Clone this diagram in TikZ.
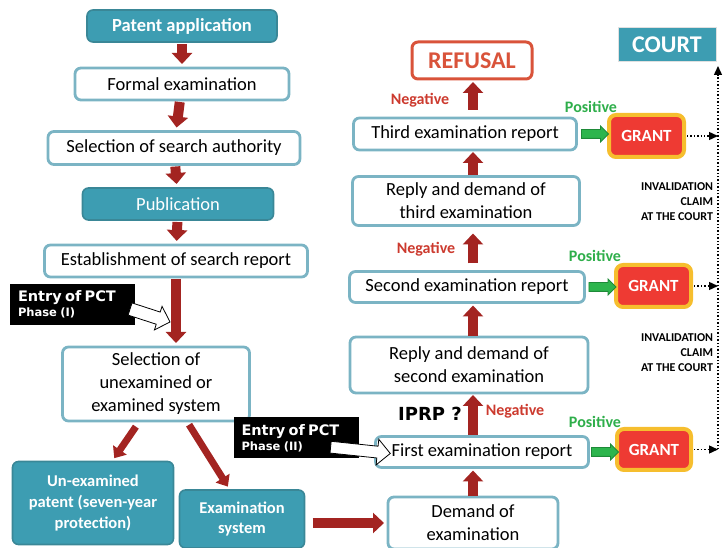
\documentclass[tikz,border=0pt]{standalone}
\usepackage{fontspec}
\setmainfont{Carlito}
\newfontfamily\dvsans{DejaVu Sans}
\usetikzlibrary{arrows.meta,shapes.arrows,calc}
\definecolor{tealfill}{HTML}{3D9DB2}
\definecolor{tealedge}{HTML}{3A8797}
\definecolor{boxedge}{HTML}{7BB4C4}
\definecolor{flowred}{HTML}{A32421}
\definecolor{grantred}{HTML}{EE3A33}
\definecolor{grantedge}{HTML}{F6BE2E}
\definecolor{refusered}{HTML}{D9533A}
\definecolor{negred}{HTML}{CC3A2E}
\definecolor{posgreen}{HTML}{2EAE4A}
\definecolor{arrowgreen}{HTML}{2DB54D}
\definecolor{arrowgreenedge}{HTML}{1E8A38}
\begin{document}
\begin{tikzpicture}[x=1pt,y=-1pt,
  every node/.style={inner sep=0pt, outer sep=0pt},
  txt/.style={font=\fontsize{18.5}{23}\selectfont, align=center},
  wbox/.style={txt, draw=boxedge, line width=2.8pt, fill=white, rounded corners=6pt},
  tbox/.style={draw=tealedge, line width=1.6pt, fill=tealfill, text=white,
    rounded corners=6pt, align=center},
  flow/.style={draw=flowred, line width=10pt,
    -{Triangle[width=20pt,length=11pt]}, shorten <=2pt, shorten >=4pt},
  diag/.style={line width=7pt, -{Triangle[width=16pt,length=10pt]}},
  grantbox/.style={fill=grantred, draw=grantedge, line width=4pt, rounded corners=7pt,
    text=white, font=\fontsize{17}{20}\selectfont\bfseries,
    minimum width=75pt, minimum height=42pt},
  garrow/.style={single arrow, fill=arrowgreen, draw=arrowgreenedge, line width=0.8pt,
    minimum height=27pt, inner xsep=0pt, inner ysep=4pt,
    single arrow head extend=3.5pt, single arrow head indent=0pt},
  pctbox/.style={fill=black, text=white, font=\dvsans\bfseries, align=left,
    inner xsep=8pt, text width=109pt, minimum height=41pt},
  pctarrow/.style={single arrow, fill=white, draw=black, line width=0.8pt,
    inner xsep=0pt, inner ysep=6pt, single arrow head extend=6pt,
    single arrow head indent=0pt},
  neglbl/.style={text=negred, font=\fontsize{16}{19}\selectfont\bfseries},
  poslbl/.style={text=posgreen, font=\fontsize{16}{19}\selectfont\bfseries},
  invlbl/.style={anchor=north east, align=right, font=\fontsize{12}{15}\selectfont\bfseries},
  dots/.style={dotted, line width=1.4pt, -{Triangle[width=8pt,length=9pt]}},
]
\useasboundingbox (0,0) rectangle (724,548);

% ---- national phase: filing to choice of system
\node[tbox, font=\fontsize{18.5}{23}\selectfont\bfseries, minimum width=190pt, minimum height=32pt]
  (patent) at (182,26) {Patent application};
\node[wbox, minimum width=214pt, minimum height=32pt] (formal) at (182,84) {Formal examination};
\node[wbox, minimum width=252pt, minimum height=33pt] (search) at (174,148) {Selection of search authority};
\node[tbox, font=\fontsize{18.5}{23}\selectfont, minimum width=191pt, minimum height=32pt]
  (pub) at (178,204) {Publication};
\node[wbox, minimum width=263pt, minimum height=32pt] (est) at (176,261) {Establishment of search report};
\node[wbox, minimum width=187pt, minimum height=74pt] (sel) at (156,384)
  {Selection of\\unexamined or\\examined system};
\node[tbox, font=\fontsize{16.5}{21}\selectfont\bfseries, minimum width=161pt, minimum height=83pt]
  (unex) at (93,503) {Un-examined\\patent (seven-year\\protection)};
\node[tbox, font=\fontsize{16.5}{20}\selectfont\bfseries, minimum width=125pt, minimum height=58pt]
  (exsys) at (242,519) {Examination\\system};

\draw[flow] (patent) -- (formal);
\draw[flow] (formal) -- (search);
\draw[flow] (search) -- (pub);
\draw[flow] (pub) -- (est);
\draw[flow] (est.south) -- (est.south |- sel.north);
\draw[flow, diag] ($(sel.south)+(-19,4)$) -- ($(unex.north)+(19,0)$);
\draw[flow, diag] ($(sel.south)+(32,2)$) -- ($(exsys.north)+(-12,0)$);

% ---- PCT entry, phase (I)
\node[pctbox] (pct1) at (72.5,304.5)
  {\fontsize{14.5}{17}\selectfont Entry of PCT\\[3pt]\fontsize{11.5}{13}\selectfont Phase (I)};
\node[pctarrow, minimum height=42pt, rotate=-18] (pa1) at ($(pct1.east)+(12,10)$) {};

% ---- examination procedure
\node[wbox, minimum width=170pt, minimum height=52pt] (demand) at (473,523) {Demand of\\examination};
\node[wbox, minimum width=213pt, minimum height=31pt] (first) at (482,452) {First examination report};
\node[wbox, minimum width=238pt, minimum height=56pt] (reply2) at (469,365)
  {Reply and demand of\\second examination};
\node[wbox, minimum width=235pt, minimum height=31pt] (second) at (467,287) {Second examination report};
\node[wbox, minimum width=227pt, minimum height=49pt] (reply3) at (466,201)
  {Reply and demand of\\third examination};
\node[wbox, minimum width=223pt, minimum height=32pt] (third) at (465,134) {Third examination report};
\node[draw=refusered, line width=3pt, fill=white, rounded corners=6pt, text=refusered,
  font=\fontsize{24}{28}\selectfont\bfseries, minimum width=120pt, minimum height=37pt]
  (refusal) at (472,60.5) {REFUSAL};

\draw[flow] ($(exsys.east)+(6,4)$) -- (demand.west);
\draw[flow, shorten <=1pt, shorten >=3pt] (demand.north) -- (demand.north |- first.south);
\draw[flow, shorten <=1pt, shorten >=2pt] (demand.north |- first.north) -- (demand.north |- reply2.south);
\draw[flow, shorten <=1pt, shorten >=3pt] (demand.north |- reply2.north) -- (demand.north |- second.south);
\draw[flow, shorten <=8pt, shorten >=8pt] (demand.north |- second.north) -- (demand.north |- reply3.south);
\draw[flow, shorten <=1pt, shorten >=2pt] (demand.north |- reply3.north) -- (demand.north |- third.south);
\draw[flow, shorten <=8pt, shorten >=3pt] (demand.north |- third.north) -- (demand.north |- refusal.south);

\node[neglbl] (neg1) at (420,100) {Negative};
\node[neglbl] (neg2) at (426,249) {Negative};
\node[neglbl] (neg3) at (515,411) {Negative};
\node[font=\dvsans\fontsize{18}{21}\selectfont\bfseries] (iprp) at (430,414) {IPRP ?};

% ---- PCT entry, phase (II)
\node[pctbox] (pct2) at (296,438)
  {\fontsize{14.5}{17}\selectfont Entry of PCT\\[3pt]\fontsize{11.5}{13}\selectfont Phase (II)};
\node[pctarrow, minimum height=60pt, inner ysep=5.5pt, single arrow head extend=7pt, rotate=-6]
  (pa2) at ($(pct2.east)+(-1,12)$) {};

% ---- grants
\node[grantbox] (grant1) at (646.5,136) {GRANT};
\node[grantbox] (grant2) at (653.5,286) {GRANT};
\node[grantbox, minimum width=74pt, minimum height=41pt] (grant3) at (654,449.5) {GRANT};

\path (third.east) -- (third.east -| grant1.west) node[midway, garrow] (g1) {};
\path (second.east) -- (second.east -| grant2.west) node[midway, garrow] (g2) {};
\path (first.east) -- (first.east -| grant3.west) node[midway, garrow] (g3) {};

\node[poslbl] (pos1) at (591,107) {Positive};
\node[poslbl] (pos2) at (595,256) {Positive};
\node[poslbl] (pos3) at (595,422) {Positive};

% ---- court
\node[fill=tealfill, draw=black!12, line width=1pt, text=white,
  font=\fontsize{24}{28}\selectfont\bfseries, minimum width=98pt, minimum height=34pt]
  (court) at (667,45) {COURT};
\coordinate (rail) at (718,0);

\draw[dots, shorten <=3pt] (grant1.east) -- (grant1.east -| rail);
\draw[dots, shorten <=3pt] (grant2.east) -- (grant2.east -| rail);
\draw[dots, shorten <=3pt] (grant3.east) -- (grant3.east -| rail);
\draw[dots, shorten >=4pt] (grant3.east -| rail) -- (rail |- court.south);

\node[invlbl] (inv1) at (713,183) {INVALIDATION\\CLAIM\\AT THE COURT};
\node[invlbl] (inv2) at (713,334) {INVALIDATION\\CLAIM\\AT THE COURT};
\end{tikzpicture}
\end{document}
